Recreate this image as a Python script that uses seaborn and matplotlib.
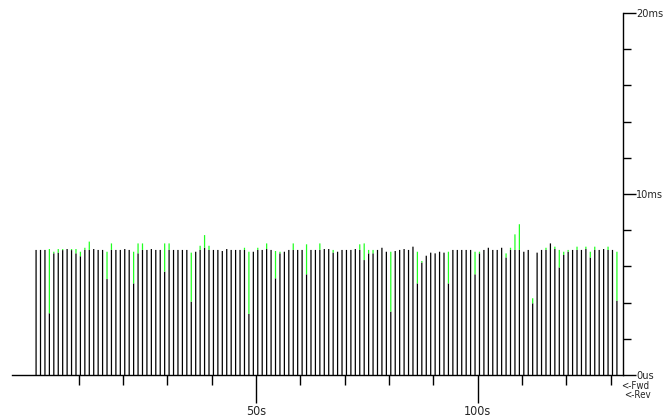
import numpy as np
import pandas as pd
import matplotlib
matplotlib.use("Agg")
import matplotlib.pyplot as plt
import seaborn as sns

# per-second samples, delay in ms
black_ms = [
    6.91, 6.91, 6.91, 3.41, 6.72, 6.76, 6.90, 6.96, 6.90, 6.72,
    6.56, 6.91, 6.91, 6.96, 6.91, 6.91, 5.30, 6.91, 6.91, 6.91,
    6.96, 6.91, 5.06, 6.72, 6.91, 6.91, 6.96, 6.91, 6.91, 5.71,
    6.91, 6.91, 6.91, 6.91, 6.91, 4.05, 6.81, 6.91, 7.03, 6.91,
    6.91, 6.91, 6.85, 6.96, 6.91, 6.91, 6.91, 6.91, 3.37, 6.81,
    6.91, 6.91, 6.96, 6.91, 5.34, 6.72, 6.81, 6.91, 6.91, 6.91,
    6.91, 5.56, 6.91, 6.91, 6.91, 6.96, 6.96, 6.76, 6.81, 6.91,
    6.91, 6.91, 6.96, 6.91, 6.35, 6.72, 6.72, 6.91, 7.03, 6.81,
    3.50, 6.85, 6.91, 6.96, 6.91, 7.09, 5.06, 6.21, 6.59, 6.76,
    6.72, 6.81, 6.76, 5.06, 6.91, 6.91, 6.91, 6.91, 6.91, 5.56,
    6.72, 6.91, 7.03, 6.91, 6.91, 7.03, 6.49, 6.91, 6.91, 6.91,
    6.81, 6.91, 3.96, 6.76, 6.91, 6.91, 7.27, 6.96, 5.94, 6.63,
    6.81, 6.91, 6.91, 6.91, 6.96, 6.49, 6.91, 6.91, 6.96, 6.91,
    6.91, 4.10,
]
# green tops (None = no green part)
green_ms = [
    None, None, None, 6.96, 6.81, 6.96, 6.96, None, 6.96, 6.96,
    6.81, 7.03, 7.37, None, None, None, 6.81, 7.27, None, None,
    None, None, 6.81, 7.27, 7.27, None, None, None, None, 7.27,
    7.27, None, None, None, None, 6.76, None, 7.14, 7.73, 7.14,
    None, None, None, None, None, None, None, 7.03, 6.81, None,
    7.03, None, 7.27, None, 6.85, 6.81, None, None, 7.27, None,
    None, 7.22, None, None, 7.27, None, None, 6.91, None, None,
    None, None, None, 7.22, 7.27, 6.91, 6.91, None, None, None,
    6.81, None, None, None, None, None, 6.81, 6.30, None, None,
    None, None, None, 6.81, None, None, None, None, None, 6.81,
    6.81, None, None, None, None, None, 6.72, 7.03, 7.77, 8.33,
    None, None, 4.24, None, None, 7.03, None, 7.09, 6.91, 6.81,
    6.91, None, 7.09, None, 7.09, 6.81, 7.09, None, None, 7.09,
    None, 6.81,
]
sample_start = 0.4  # first sample time, s

x_major = [50, 100]
x_major_labels = ["50s", "100s"]
x_minor = [10, 20, 30, 40, 60, 70, 80, 90, 110, 120, 130]
y_major = [0, 10, 20]
y_major_labels = ["0us", "10ms", "20ms"]
y_minor = [2, 4, 6, 8, 12, 14, 16, 18]

df = pd.DataFrame({"black": black_ms, "green": green_ms})
df["green"] = df["green"].fillna(df["black"])
df["sec"] = sample_start + np.arange(len(df))

sns.set_style("white")
plt.rcParams["font.family"] = ["DejaVu Sans"]
plt.rcParams["font.stretch"] = "condensed"

fig = plt.figure(figsize=(6.63, 4.17), dpi=100)
ax = fig.add_axes([12 / 663, 42 / 417, 611 / 663, 362 / 417])

sns.barplot(data=df, x="sec", y="black", native_scale=True, color="black",
            saturation=1, width=0.28, linewidth=0, errorbar=None, ax=ax)
sns.barplot(data=df, x="sec", y="green", native_scale=True, color="#22ff22",
            saturation=1, width=0.28, linewidth=0, errorbar=None, ax=ax)
# green part only sits on top of the black part
for p, lo, hi in zip(ax.containers[1], df["black"], df["green"]):
    p.set_y(lo)
    p.set_height(hi - lo)
# no pixel snapping, so each thin bar gets the same ink
for p in ax.patches:
    p.set_snap(False)

ax.set_xlim(-5.03, 132.77)
ax.set_ylim(0, 20)
ax.set_xlabel("")
ax.set_ylabel("")

for s in ["left", "top"]:
    ax.spines[s].set_visible(False)
for s in ["bottom", "right"]:
    ax.spines[s].set_color("black")
    ax.spines[s].set_linewidth(1)

ax.set_xticks(x_major)
ax.set_xticklabels(x_major_labels)
ax.set_xticks(x_minor, minor=True)
ax.yaxis.tick_right()
ax.set_yticks(y_major)
ax.set_yticklabels(y_major_labels)
ax.set_yticks(y_minor, minor=True)

ax.tick_params(axis="x", which="major", direction="out", length=20, width=1,
               color="black", pad=1.5, labelsize=9, bottom=True)
ax.tick_params(axis="x", which="minor", direction="out", length=7, width=1,
               color="black", bottom=True)
ax.tick_params(axis="y", which="major", direction="out", length=9, width=1,
               color="black", pad=0.5, labelsize=7.8, right=True, left=False)
ax.tick_params(axis="y", which="minor", direction="out", length=5.5, width=1,
               color="black", right=True, left=False)

fig.text(621 / 663, 1 - 386 / 417, "<-Fwd", fontsize=7, va="center", ha="left")
fig.text(624 / 663, 1 - 395 / 417, "<-Rev", fontsize=7, va="center", ha="left")

fig.savefig("out.png", dpi=100)
